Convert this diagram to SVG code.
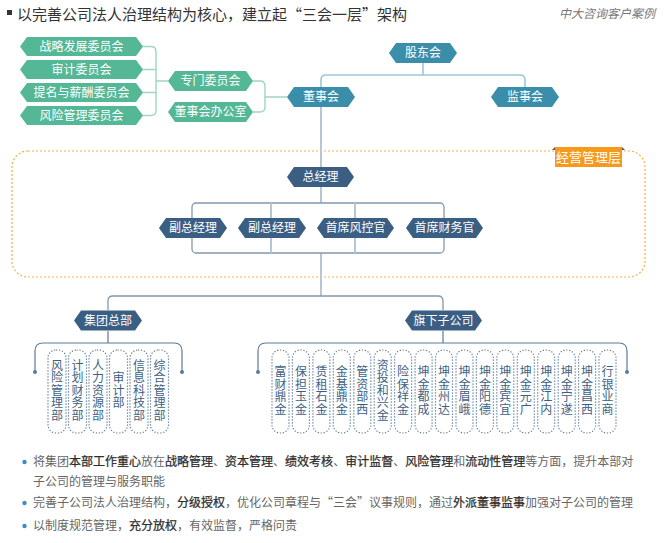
<svg xmlns="http://www.w3.org/2000/svg" width="666" height="543" viewBox="0 0 666 543">
<style>
text{font-family:"Noto Sans CJK SC","Noto Sans",sans-serif;}
.nt{font-size:12px;fill:#fff;text-anchor:middle;}
.g{fill:#54b795;}
.b{fill:#3a8eaa;}
.n{fill:#3b5e83;}
.cg{fill:none;stroke:#9fd5c2;stroke-width:1.4;}
.cb{fill:none;stroke:#9cc8d8;stroke-width:1.6;}
.cm{fill:none;stroke:#b6c6d6;stroke-width:2;}
.cf{fill:none;stroke:#8498ae;stroke-width:1.3;}
.cd{fill:none;stroke:#5d7a98;stroke-width:1.2;}
.box{fill:none;stroke:#56769a;stroke-width:1.2;stroke-dasharray:1.2 1.8;}
.vt{font-size:12px;fill:#3d5f84;text-anchor:middle;}
.bt{font-size:12px;fill:#666;}
.bb{fill:#2d2d2d;stroke:#2d2d2d;stroke-width:0.25;}
</style>

<!-- title -->
<rect x="7" y="10" width="5" height="5" fill="#333"/>
<text x="17" y="19.5" font-size="15" fill="#333">以完善公司法人治理结构为核心，建立起“三会一层”架构</text>
<text x="655" y="18" font-size="12" fill="#777" font-style="italic" text-anchor="end">中大咨询客户案例</text>

<!-- management layer frame -->
<rect x="12" y="151" width="633" height="126" rx="16" fill="none" stroke="#f5b04a" stroke-width="1.2" stroke-dasharray="2 2"/>
<g id="label-mgmt">
<polygon points="552,150 555,147 555,150" fill="#555"/>
<polygon points="625,150 622,147 622,150" fill="#555"/>
<rect x="555" y="147" width="67" height="20" fill="#f7991c"/>
<text x="588.5" y="162" font-size="13" fill="#fff" text-anchor="middle">经营管理层</text>
</g>

<!-- connectors -->
<g id="connectors">
<path class="cg" d="M143 46.5 H151 Q156 46.5 156 51.5 V110.5 Q156 115.5 151 115.5 H143 M143 69.5 H156 M143 92.5 H156 M156 81 H168"/>
<path class="cg" d="M253 81 H260 Q265 81 265 86 V107 Q265 112 260 112 H253 M265 97 H287"/>
<path class="cb" d="M423 63 V75 M321 87 V80 Q321 75 326 75 H520 Q525 75 525 80 V87"/>
<path class="cm" d="M321 107 V167 M321 187 V203 M321 253 V296"/>
<rect class="cf" x="192" y="203" width="252" height="50" rx="4"/>
<path class="cm" d="M271 203 V253 M355 203 V253"/>
<path class="cf" d="M108 310 V301 Q108 296 113 296 H438 Q443 296 443 301 V310"/>
<path class="cd" d="M108 331 V343 M35 372 V351 Q35 343 43 343 H174 Q182 343 182 351 V372"/>
<path class="cd" d="M443 331 V343 M258 372 V351 Q258 343 266 343 H619 Q627 343 627 351 V372"/>
<circle cx="35" cy="372" r="2" fill="#5d7a98"/>
<circle cx="182" cy="372" r="2" fill="#5d7a98"/>
<circle cx="258" cy="372" r="2" fill="#5d7a98"/>
<circle cx="627" cy="372" r="2" fill="#5d7a98"/>
</g>

<!-- committees -->
<g id="c1"><path class="g" d="M20 46.5 L27 37 H136 L143 46.5 L136 56 H27 Z"/><text class="nt" x="81.5" y="50.8">战略发展委员会</text></g>
<g id="c2"><path class="g" d="M20 69.5 L27 60 H136 L143 69.5 L136 79 H27 Z"/><text class="nt" x="81.5" y="73.8">审计委员会</text></g>
<g id="c3"><path class="g" d="M20 92.5 L27 83 H136 L143 92.5 L136 102 H27 Z"/><text class="nt" x="81.5" y="96.8">提名与薪酬委员会</text></g>
<g id="c4"><path class="g" d="M20 115.5 L27 106 H136 L143 115.5 L136 125 H27 Z"/><text class="nt" x="81.5" y="119.8">风险管理委员会</text></g>
<g id="zmwyh"><path class="g" d="M168 81 L175 71 H246 L253 81 L246 91 H175 Z"/><text class="nt" x="210.5" y="85.3">专门委员会</text></g>
<g id="dshbgs"><path class="g" d="M168 112 L175 102 H246 L253 112 L246 122 H175 Z"/><text class="nt" x="210.5" y="116.3">董事会办公室</text></g>

<!-- board -->
<g id="gdh"><path class="b" d="M389 53 L396 43 H450 L457 53 L450 63 H396 Z"/><text class="nt" x="423" y="57.3">股东会</text></g>
<g id="dsh"><path class="b" d="M287 97 L294 87 H348 L355 97 L348 107 H294 Z"/><text class="nt" x="321" y="101.3">董事会</text></g>
<g id="jsh"><path class="b" d="M491 97 L498 87 H552 L559 97 L552 107 H498 Z"/><text class="nt" x="525" y="101.3">监事会</text></g>

<!-- management -->
<g id="zjl"><path class="n" d="M287 177 L294 167 H347 L354 177 L347 187 H294 Z"/><text class="nt" x="320.5" y="181.3">总经理</text></g>
<g id="fzjl1"><path class="n" d="M159 228 L166 218 H220 L227 228 L220 238 H166 Z"/><text class="nt" x="193" y="232.3">副总经理</text></g>
<g id="fzjl2"><path class="n" d="M238 228 L245 218 H299 L306 228 L299 238 H245 Z"/><text class="nt" x="272" y="232.3">副总经理</text></g>
<g id="sxfkg"><path class="n" d="M317 228 L324 218 H387 L394 228 L387 238 H324 Z"/><text class="nt" x="355.5" y="232.3">首席风控官</text></g>
<g id="sxcwg"><path class="n" d="M406 228 L413 218 H476 L483 228 L476 238 H413 Z"/><text class="nt" x="444.5" y="232.3">首席财务官</text></g>

<!-- second level -->
<g id="jtzb"><path class="n" d="M74 320.5 L81 310.5 H135 L142 320.5 L135 330.5 H81 Z"/><text class="nt" x="108" y="324.8">集团总部</text></g>
<g id="qxzgs"><path class="n" d="M405 320.5 L412 310.5 H475 L482 320.5 L475 330.5 H412 Z"/><text class="nt" x="443.5" y="324.8">旗下子公司</text></g>

<!-- departments -->
<g id="d1"><rect class="box" x="48" y="350" width="18" height="83" rx="8"/><text class="vt" x="57 57 57 57 57" y="369.9 382.4 394.9 407.4 419.9">风险管理部</text></g>
<g id="d2"><rect class="box" x="68.5" y="350" width="18" height="83" rx="8"/><text class="vt" x="77.5 77.5 77.5 77.5 77.5" y="369.9 382.4 394.9 407.4 419.9">计划财务部</text></g>
<g id="d3"><rect class="box" x="89" y="350" width="18" height="83" rx="8"/><text class="vt" x="98 98 98 98 98" y="369.9 382.4 394.9 407.4 419.9">人力资源部</text></g>
<g id="d4"><rect class="box" x="109.5" y="350" width="18" height="83" rx="8"/><text class="vt" x="118.5 118.5 118.5" y="382.4 394.9 407.4">审计部</text></g>
<g id="d5"><rect class="box" x="130" y="350" width="18" height="83" rx="8"/><text class="vt" x="139 139 139 139 139" y="369.9 382.4 394.9 407.4 419.9">信息科技部</text></g>
<g id="d6"><rect class="box" x="150.5" y="350" width="18" height="83" rx="8"/><text class="vt" x="159.5 159.5 159.5 159.5 159.5" y="369.9 382.4 394.9 407.4 419.9">综合管理部</text></g>

<!-- subsidiaries -->
<g id="s1"><rect class="box" x="272" y="350" width="17" height="83" rx="8"/><text class="vt" x="280.5 280.5 280.5 280.5" y="376.2 388.7 401.2 413.7">富财鼎金</text></g>
<g id="s2"><rect class="box" x="292.4" y="350" width="17" height="83" rx="8"/><text class="vt" x="300.9 300.9 300.9 300.9" y="376.2 388.7 401.2 413.7">保担玉金</text></g>
<g id="s3"><rect class="box" x="312.9" y="350" width="17" height="83" rx="8"/><text class="vt" x="321.4 321.4 321.4 321.4" y="376.2 388.7 401.2 413.7">赁租石金</text></g>
<g id="s4"><rect class="box" x="333.3" y="350" width="17" height="83" rx="8"/><text class="vt" x="341.8 341.8 341.8 341.8" y="376.2 388.7 401.2 413.7">金基鼎金</text></g>
<g id="s5"><rect class="box" x="353.8" y="350" width="17" height="83" rx="8"/><text class="vt" x="362.3 362.3 362.3 362.3" y="376.2 388.7 401.2 413.7">管资部西</text></g>
<g id="s6"><rect class="box" x="374.2" y="350" width="17" height="83" rx="8"/><text class="vt" x="382.7 382.7 382.7 382.7 382.7" y="369.9 382.4 394.9 407.4 419.9">资投和兴金</text></g>
<g id="s7"><rect class="box" x="394.6" y="350" width="17" height="83" rx="8"/><text class="vt" x="403.1 403.1 403.1 403.1" y="376.2 388.7 401.2 413.7">险保祥金</text></g>
<g id="s8"><rect class="box" x="415.1" y="350" width="17" height="83" rx="8"/><text class="vt" x="423.6 423.6 423.6 423.6" y="376.2 388.7 401.2 413.7">坤金都成</text></g>
<g id="s9"><rect class="box" x="435.5" y="350" width="17" height="83" rx="8"/><text class="vt" x="444 444 444 444" y="376.2 388.7 401.2 413.7">坤金州达</text></g>
<g id="s10"><rect class="box" x="456" y="350" width="17" height="83" rx="8"/><text class="vt" x="464.5 464.5 464.5 464.5" y="376.2 388.7 401.2 413.7">坤金眉峨</text></g>
<g id="s11"><rect class="box" x="476.4" y="350" width="17" height="83" rx="8"/><text class="vt" x="484.9 484.9 484.9 484.9" y="376.2 388.7 401.2 413.7">坤金阳德</text></g>
<g id="s12"><rect class="box" x="496.8" y="350" width="17" height="83" rx="8"/><text class="vt" x="505.3 505.3 505.3 505.3" y="376.2 388.7 401.2 413.7">坤金宾宜</text></g>
<g id="s13"><rect class="box" x="517.3" y="350" width="17" height="83" rx="8"/><text class="vt" x="525.8 525.8 525.8 525.8" y="376.2 388.7 401.2 413.7">坤金元广</text></g>
<g id="s14"><rect class="box" x="537.7" y="350" width="17" height="83" rx="8"/><text class="vt" x="546.2 546.2 546.2 546.2" y="376.2 388.7 401.2 413.7">坤金江内</text></g>
<g id="s15"><rect class="box" x="558.2" y="350" width="17" height="83" rx="8"/><text class="vt" x="566.7 566.7 566.7 566.7" y="376.2 388.7 401.2 413.7">坤金宁遂</text></g>
<g id="s16"><rect class="box" x="578.6" y="350" width="17" height="83" rx="8"/><text class="vt" x="587.1 587.1 587.1 587.1" y="376.2 388.7 401.2 413.7">坤金昌西</text></g>
<g id="s17"><rect class="box" x="599" y="350" width="17" height="83" rx="8"/><text class="vt" x="607.5 607.5 607.5 607.5" y="376.2 388.7 401.2 413.7">行银业商</text></g>

<!-- bullets -->
<g id="notes">
<circle cx="24.5" cy="462" r="2.2" fill="#3a8fc2"/>
<circle cx="24.5" cy="503" r="2.2" fill="#3a8fc2"/>
<circle cx="24.5" cy="526" r="2.2" fill="#3a8fc2"/>
<text class="bt" x="33" y="466">将集团<tspan class="bb">本部工作重心</tspan>放在<tspan class="bb">战略管理</tspan>、<tspan class="bb">资本管理</tspan>、<tspan class="bb">绩效考核</tspan>、<tspan class="bb">审计监督</tspan>、<tspan class="bb">风险管理</tspan>和<tspan class="bb">流动性管理</tspan>等方面，提升本部对</text>
<text class="bt" x="33" y="486">子公司的管理与服务职能</text>
<text class="bt" x="33" y="507">完善子公司法人治理结构，<tspan class="bb">分级授权</tspan>，优化公司章程与“三会”议事规则，通过<tspan class="bb">外派董事监事</tspan>加强对子公司的管理</text>
<text class="bt" x="33" y="530">以制度规范管理，<tspan class="bb">充分放权</tspan>，有效监督，严格问责</text>
</g>
</svg>
